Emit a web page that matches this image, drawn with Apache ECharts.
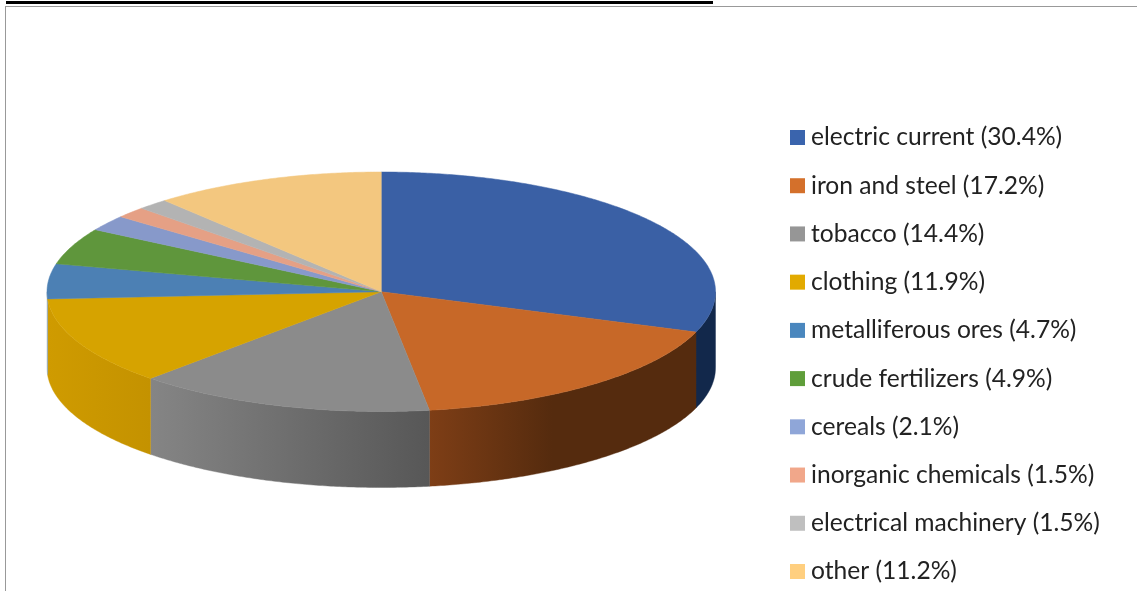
<!DOCTYPE html>
<html>
<head>
<meta charset="utf-8">
<style>html,body{margin:0;padding:0;background:#fff}#c{width:1137px;height:591px}</style>
<script src="https://cdn.jsdelivr.net/npm/echarts@6/dist/echarts.min.js"></script>
</head>
<body>
<div id="c"></div>
<script>
var categories = ['electric current','iron and steel','tobacco','clothing','metalliferous ores','crude fertilizers','cereals','inorganic chemicals','electrical machinery','other'];
var shares = [30.4,17.2,14.4,11.9,4.7,4.9,2.1,1.5,1.5,11.2];
var legendColours = ['#3A64AD','#D4702B','#969696','#E2AA00','#4A87BE','#5F9E3A','#8FA6D8','#F1A78A','#BFBFBF','#FFCF7F'];
var faceColours = ['#3A60A5','#C76828','#8B8B8B','#D6A300','#4C80B4','#5F963C','#8799CA','#E5A085','#B3B3B3','#F3C77F'];
var wallLeft = ['#12284B','#7E3E16','#858585','#CF9B00','#8FA9BF','#4F7D32','#6F80A8','#BF856F','#959595','#CBA66A'];
var wallRight = ['#12284B','#552B0E','#575757','#C49200','#8FA9BF','#4F7D32','#6F80A8','#BF856F','#959595','#CBA66A'];
var wallFade = [1,0.46,1,1,1,1,1,1,1,1];

var CX = 381.25, CY = 291.75, RX = 334.25, RY = 119.75, DEPTH = 76;

var total = shares.reduce(function (a, b) { return a + b; }, 0);
function startAngle(i) {
  var s = 0;
  for (var k = 0; k < i; k++) s += shares[k];
  return s / total * 360;
}
function rim(deg, dy) {
  var r = deg * Math.PI / 180;
  return [CX + RX * Math.sin(r), CY - RY * Math.cos(r) + dy];
}
function arc(a0, a1, dy) {
  var pts = [], n = Math.max(2, Math.ceil((a1 - a0) * 2));
  for (var j = 0; j <= n; j++) pts.push(rim(a0 + (a1 - a0) * j / n, dy));
  return pts;
}

function wallItem(i) {
  return function (params, api) {
    var v = api.value(0);
    var a0 = Math.max(startAngle(i), 90);
    var a1 = Math.min(startAngle(i) + v / total * 360, 270);
    if (a1 <= a0) return { type: 'group', children: [] };
    var pts = arc(a0, a1, 0).concat(arc(a0, a1, DEPTH).reverse());
    var grad = new echarts.graphic.LinearGradient(0, 0, 1, 0, [
      { offset: 0, color: wallLeft[i] },
      { offset: wallFade[i], color: wallRight[i] },
      { offset: 1, color: wallRight[i] }
    ]);
    return {
      type: 'polygon',
      shape: { points: pts },
      style: { fill: grad, stroke: grad, lineWidth: 0.4 }
    };
  };
}
function faceItem(i) {
  return function (params, api) {
    var v = api.value(0);
    var a0 = startAngle(i), a1 = a0 + v / total * 360;
    return {
      type: 'polygon',
      shape: { points: [[CX, CY]].concat(arc(a0, a1, 0)) },
      style: { fill: faceColours[i], stroke: faceColours[i], lineWidth: 0.5 }
    };
  };
}

var series = [];
categories.forEach(function (name, i) {
  series.push({
    type: 'custom', name: name + ' (' + shares[i].toFixed(1) + '%)',
    coordinateSystem: 'none', silent: true, z: 2,
    itemStyle: { color: legendColours[i] },
    data: [[shares[i]]], renderItem: wallItem(i)
  });
});
categories.forEach(function (name, i) {
  series.push({
    type: 'custom', name: name + ' (' + shares[i].toFixed(1) + '%)',
    coordinateSystem: 'none', silent: true, z: 3,
    itemStyle: { color: legendColours[i] },
    data: [[shares[i]]], renderItem: faceItem(i)
  });
});

var chart = echarts.init(document.getElementById('c'), null, { renderer: 'canvas' });
chart.setOption({
  animation: false,
  backgroundColor: '#ffffff',
  legend: {
    orient: 'vertical', left: 790, top: 125, height: 466, padding: 0,
    icon: 'rect', itemWidth: 15, itemHeight: 15, itemGap: 23.22,
    selectedMode: false,
    data: categories.map(function (n, i) { return n + ' (' + shares[i].toFixed(1) + '%)'; }),
    textStyle: { fontFamily: 'Lato', fontSize: 24.6, lineHeight: 23, color: '#222222', padding: [0, 0, 0, 1] }
  },
  graphic: [
    { type: 'rect', shape: { x: 6, y: 1, width: 707, height: 3 }, style: { fill: '#000' } },
    { type: 'rect', shape: { x: 5, y: 6, width: 1132, height: 1 }, style: { fill: '#999' } },
    { type: 'rect', shape: { x: 5, y: 6, width: 1, height: 585 }, style: { fill: '#999' } }
  ],
  series: series
});
</script>
</body>
</html>
